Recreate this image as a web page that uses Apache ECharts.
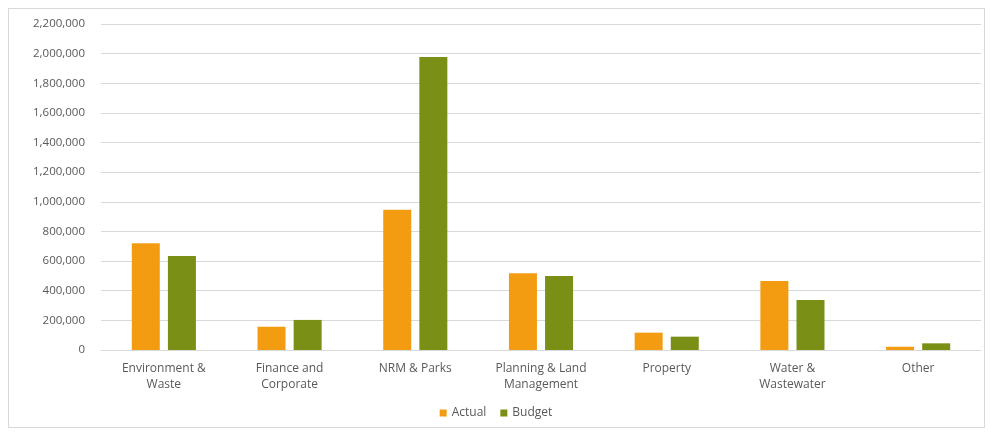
<!DOCTYPE html>
<html><head><meta charset="utf-8">
<script src="https://cdn.jsdelivr.net/npm/echarts@6/dist/echarts.min.js"></script>
<style>html,body{margin:0;padding:0;background:#fff}#c{width:992px;height:433px}
#frame{position:absolute;left:8px;top:8px;width:977px;height:420px;border:1px solid #d9d9d9;box-sizing:border-box;pointer-events:none}</style>
</head><body><div id="c"></div><div id="frame"></div>
<script>
const categories = ['Environment &\nWaste','Finance and\nCorporate','NRM & Parks','Planning & Land\nManagement','Property','Water &\nWastewater','Other'];
const actual = [720000, 157000, 946000, 518000, 117000, 466000, 22000];
const budget = [635000, 203000, 1978000, 500000, 90000, 338000, 45000];
const seriesNames = ['Actual','Budget'];

const chart = echarts.init(document.getElementById('c'));
const font = 'Open Sans';
chart.setOption({
  animation:false,
  grid:{left:101,right:11,top:24,bottom:83,containLabel:false},
  legend:{data:seriesNames,bottom:9,left:'center',itemWidth:7,itemHeight:7,itemGap:14,icon:'rect',
    textStyle:{color:'#595959',fontSize:12,fontFamily:font}},
  xAxis:{type:'category',data:categories,
    axisLine:{lineStyle:{color:'#d9d9d9'}},axisTick:{show:false},
    axisLabel:{color:'#595959',fontSize:12,fontFamily:font,lineHeight:16,margin:11,interval:0}},
  yAxis:{type:'value',min:0,max:2200000,interval:200000,
    axisLine:{show:false},axisTick:{show:false},
    splitLine:{lineStyle:{color:'#d9d9d9'}},
    axisLabel:{color:'#595959',fontSize:11.5,fontFamily:font,margin:16,
      formatter:v=>v.toLocaleString('en-US')}},
  series:[
    {name:seriesNames[0],type:'bar',data:actual,barWidth:28,barGap:'29%',itemStyle:{color:'#F39C12'}},
    {name:seriesNames[1],type:'bar',data:budget,barWidth:28,itemStyle:{color:'#7A8F16'}}
  ]
});
</script></body></html>
